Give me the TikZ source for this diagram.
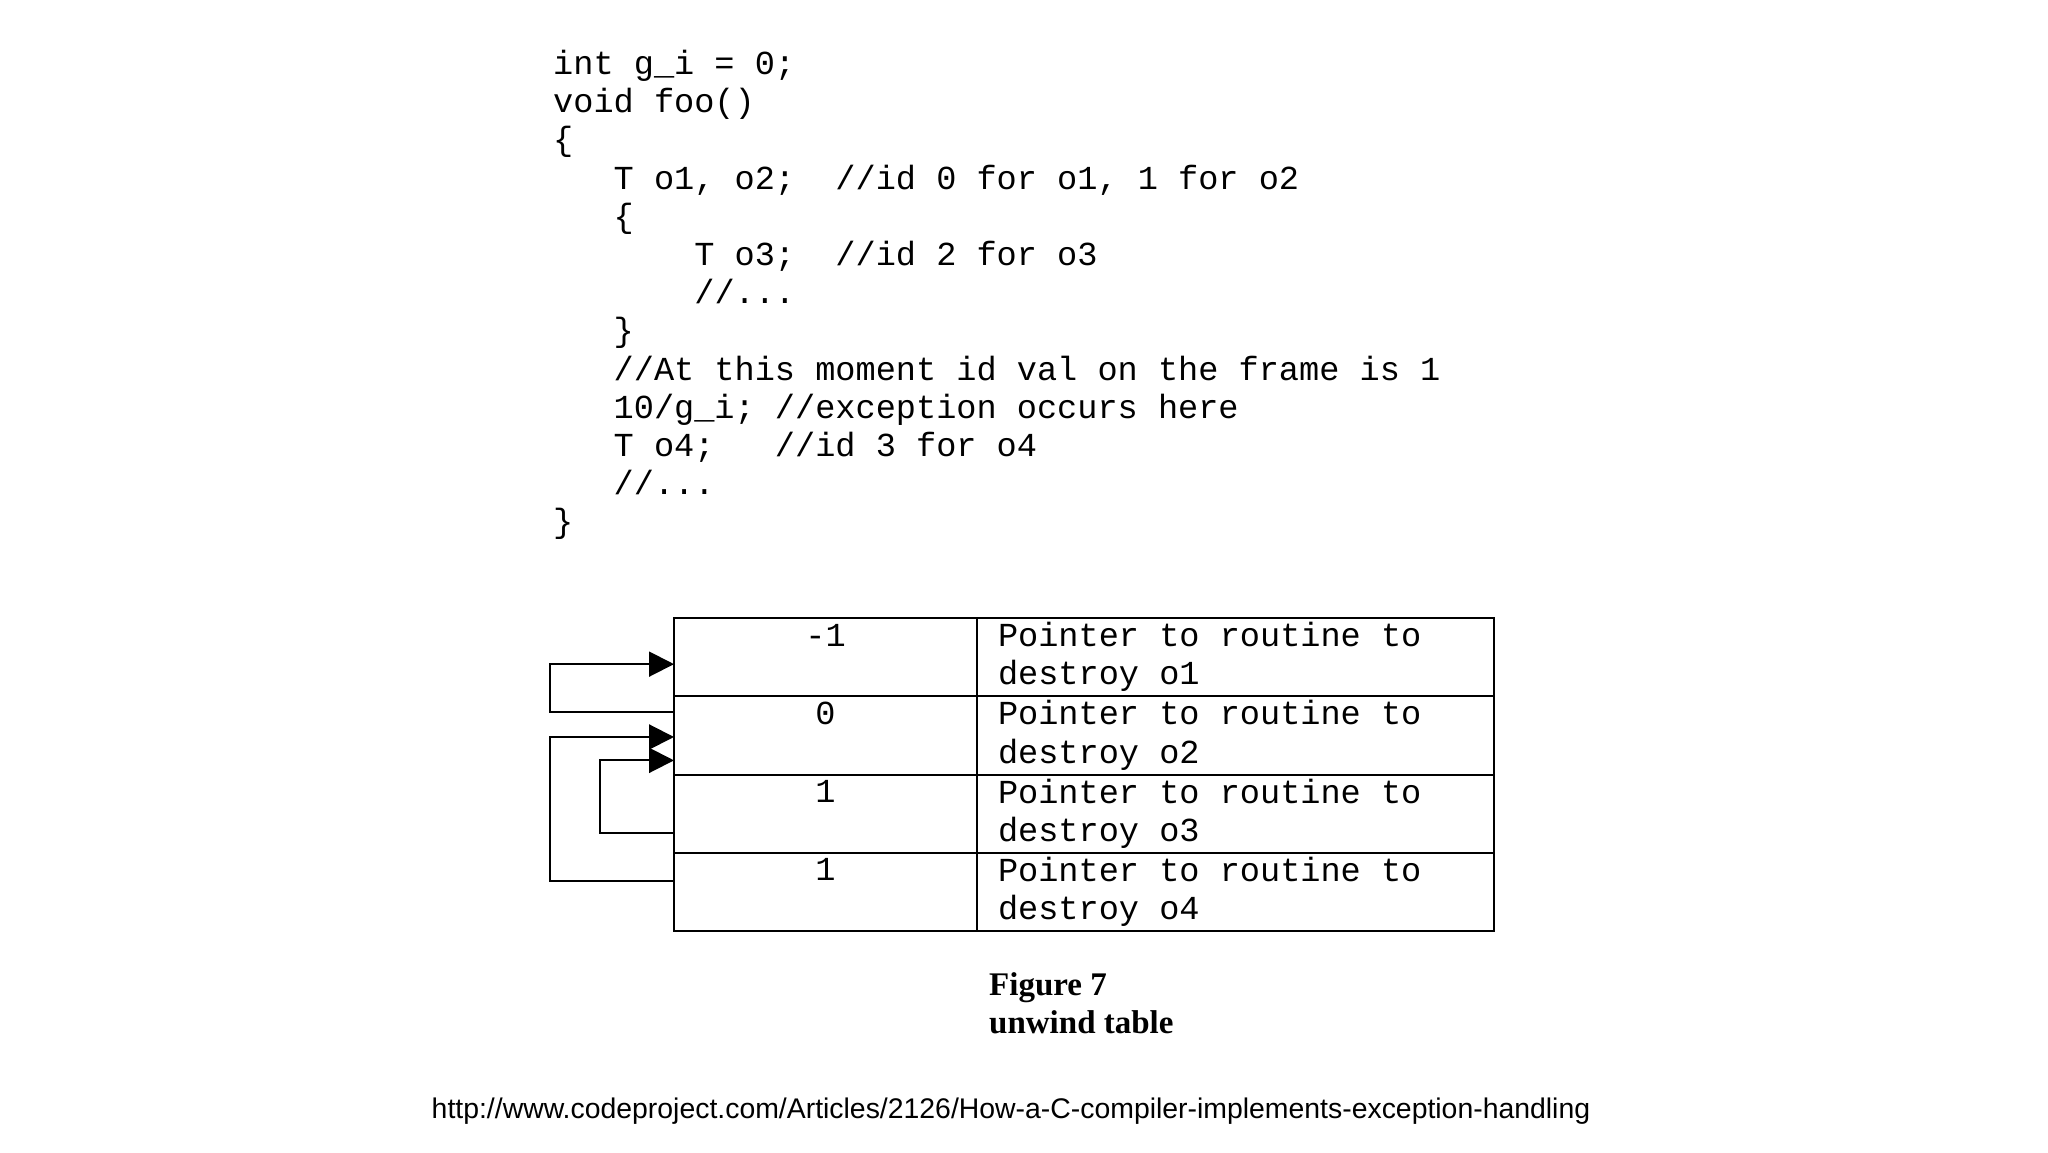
\documentclass[tikz,border=0pt]{standalone}
\usepackage{fontspec}
\setmainfont{Liberation Serif}
\setsansfont{Liberation Sans}
\setmonofont{Liberation Mono}
\usetikzlibrary{arrows.meta, positioning}

\begin{document}
\begin{tikzpicture}[
    x=1pt, y=-1pt,
    code/.style={font=\ttfamily\fontsize{33.6}{38.2}\selectfont, align=left,
                 inner sep=0pt, anchor=north west},
    idcell/.style={rectangle, draw, line width=2pt, minimum width=303pt,
                   minimum height=78.25pt, inner sep=0pt, outer sep=0pt,
                   text height=28pt, text depth=50.25pt,
                   font=\ttfamily\fontsize{33.6}{38.2}\selectfont},
    ptrcell/.style={rectangle, draw, line width=2pt, minimum width=517pt,
                    minimum height=78.25pt, inner xsep=21pt, inner ysep=0pt,
                    outer sep=0pt, text width=475pt, align=flush left,
                    font=\ttfamily\fontsize{33.6}{38.2}\selectfont},
    ptr/.style={-{Triangle[length=25pt, width=25pt]}, line width=2pt},
    caption/.style={font=\bfseries\fontsize{33}{38}\selectfont, align=left,
                    inner sep=0pt, anchor=north west},
    url/.style={font=\sffamily\fontsize{28.4}{34}\selectfont, inner sep=0pt},
]
\useasboundingbox (0,0) rectangle (2048,1152);

% Source code
\node[code] (src) at (553,50) {int g\_i = 0;\\void foo()\\\{\\
~~~T o1, o2;~~//id 0 for o1, 1 for o2\\~~~\{\\
~~~~~~~T o3;~~//id 2 for o3\\~~~~~~~//...\\~~~\}\\
~~~//At this moment id val on the frame is 1\\
~~~10/g\_i; //exception occurs here\\
~~~T o4;~~~//id 3 for o4\\~~~//...\\\}};

% Unwind table
\node[idcell, anchor=north west] (id0) at (674,618) {-1};
\node[ptrcell, right=0pt of id0] (dtor0) {Pointer to routine to\\destroy o1};
\node[idcell, below=0pt of id0] (id1) {0};
\node[ptrcell, right=0pt of id1] (dtor1) {Pointer to routine to\\destroy o2};
\node[idcell, below=0pt of id1] (id2) {1};
\node[ptrcell, right=0pt of id2] (dtor2) {Pointer to routine to\\destroy o3};
\node[idcell, below=0pt of id2] (id3) {1};
\node[ptrcell, right=0pt of id3] (dtor3) {Pointer to routine to\\destroy o4};

% Links to the enclosing entry
\draw[ptr] ([yshift=23.4pt]id1.west) -- ++(-124,0) |- ([yshift=-7pt]id0.west);
\draw[ptr] ([yshift=10.4pt]id3.west) -- ++(-124,0) |- ([yshift=-1.6pt]id1.west);
\draw[ptr] ([yshift=-19.4pt]id2.west) -- ++(-74,0) |- ([yshift=-25pt]id1.west);

% Caption
\node[caption] (fig) at (989,972) {Figure 7\\unwind table};

% Source link
\node[url] (link) at (1011,1111) {http://www.codeproject.com/Articles/2126/How-a-C-compiler-implements-exception-handling};

\end{tikzpicture}
\end{document}
